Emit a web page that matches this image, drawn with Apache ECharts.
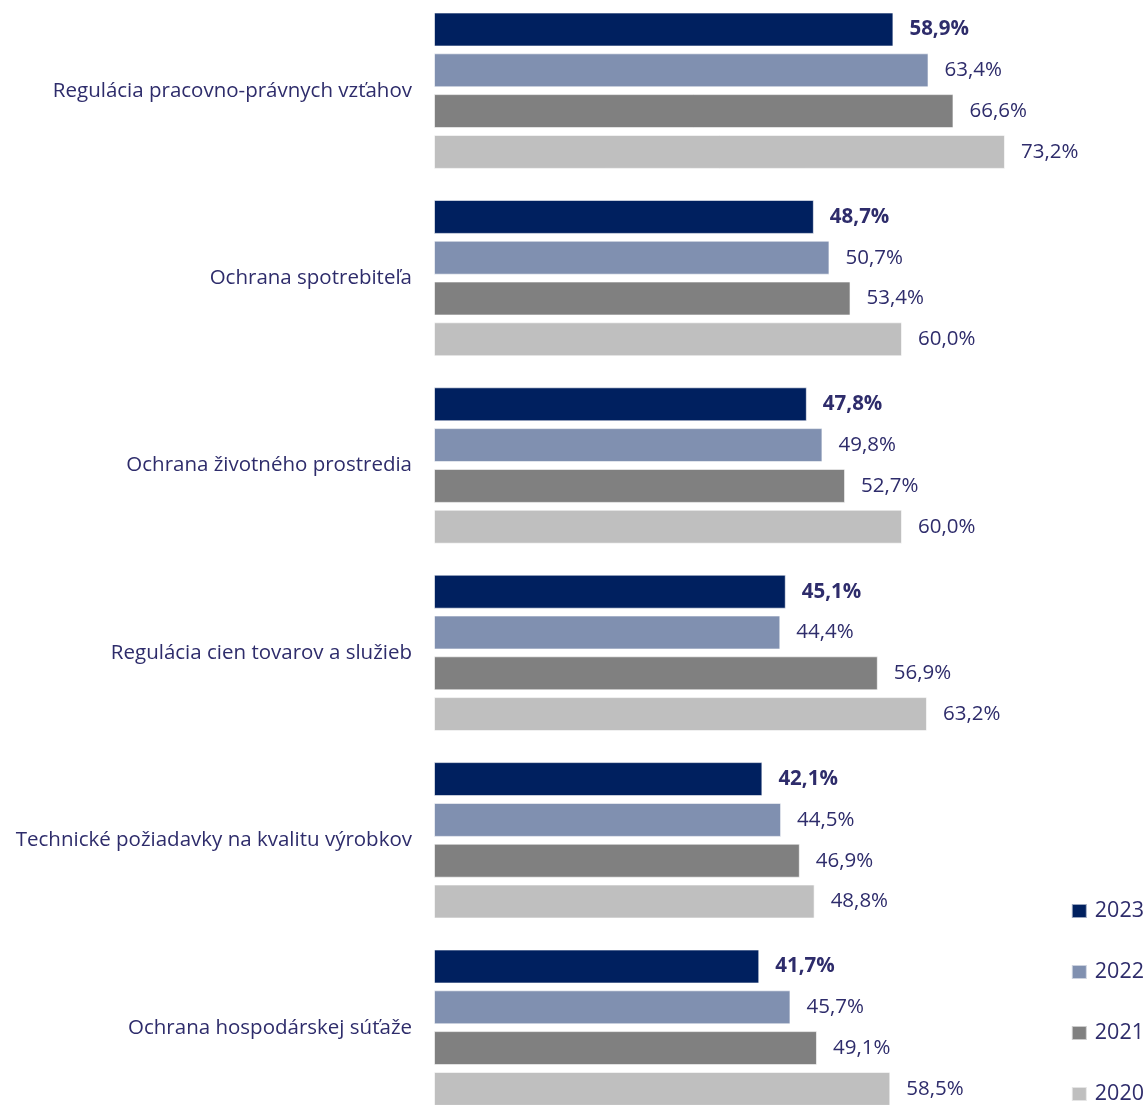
<!DOCTYPE html>
<html>
<head>
<meta charset="utf-8">
<script src="https://cdn.jsdelivr.net/npm/echarts@6/dist/echarts.min.js"></script>
<style>
html,body{margin:0;padding:0;background:#fff;overflow:hidden;width:1146px;height:1105px;}
#chart{position:absolute;left:0;top:-3px;width:1146px;height:1130px;}
</style>
</head>
<body>
<div id="chart"></div>
<script>
const categories = [
  'Regulácia pracovno-právnych vzťahov',
  'Ochrana spotrebiteľa',
  'Ochrana životného prostredia',
  'Regulácia cien tovarov a služieb',
  'Technické požiadavky na kvalitu výrobkov',
  'Ochrana hospodárskej súťaže'
];
const seriesNames = ['2023', '2022', '2021', '2020'];
const v2023 = [58.9, 48.7, 47.8, 45.1, 42.1, 41.7];
const v2022 = [63.4, 50.7, 49.8, 44.4, 44.5, 45.7];
const v2021 = [66.6, 53.4, 52.7, 56.9, 46.9, 49.1];
const v2020 = [73.2, 60.0, 60.0, 63.2, 48.8, 58.5];
const values = [v2023, v2022, v2021, v2020];
const colors = ['#00205F', '#8090B0', '#808080', '#BFBFBF'];

const FONT = 'Open Sans';
const TEXT = '#2E2C6B';

const chart = echarts.init(document.getElementById('chart'));
const fmt = p => p.value.toFixed(1).replace('.', ',') + '%';
const legendTops = [903, 964, 1025, 1086];

chart.setOption({
  animation: false,
  textStyle: { fontFamily: FONT },
  grid: { left: 434, right: 10, top: 0, height: 1124.4, containLabel: false },
  xAxis: { type: 'value', min: 0, max: 90, show: false },
  yAxis: {
    type: 'category', data: categories, inverse: true,
    axisLine: { show: false }, axisTick: { show: false },
    axisLabel: { margin: 22, color: TEXT, fontSize: 20.5, fontFamily: FONT }
  },
  legend: seriesNames.map((name, i) => ({
    orient: 'vertical', right: 2, top: legendTops[i], padding: 0,
    itemWidth: 15, itemHeight: 14, icon: 'rect',
    data: [name],
    textStyle: { color: TEXT, fontSize: 21.5, lineHeight: 22, fontFamily: FONT, padding: [0, 0, 0, 3] }
  })),
  series: seriesNames.map((name, i) => ({
    name, type: 'bar', data: values[i],
    barWidth: 34, barGap: '20%',
    itemStyle: { color: colors[i], borderColor: 'rgba(255,255,255,0.6)', borderWidth: 1 },
    label: {
      show: true, position: 'right', distance: 16, formatter: fmt,
      color: TEXT, fontSize: 20.5, fontFamily: FONT,
      fontWeight: i === 0 ? 'bold' : 'normal'
    }
  }))
});
</script>
</body>
</html>
